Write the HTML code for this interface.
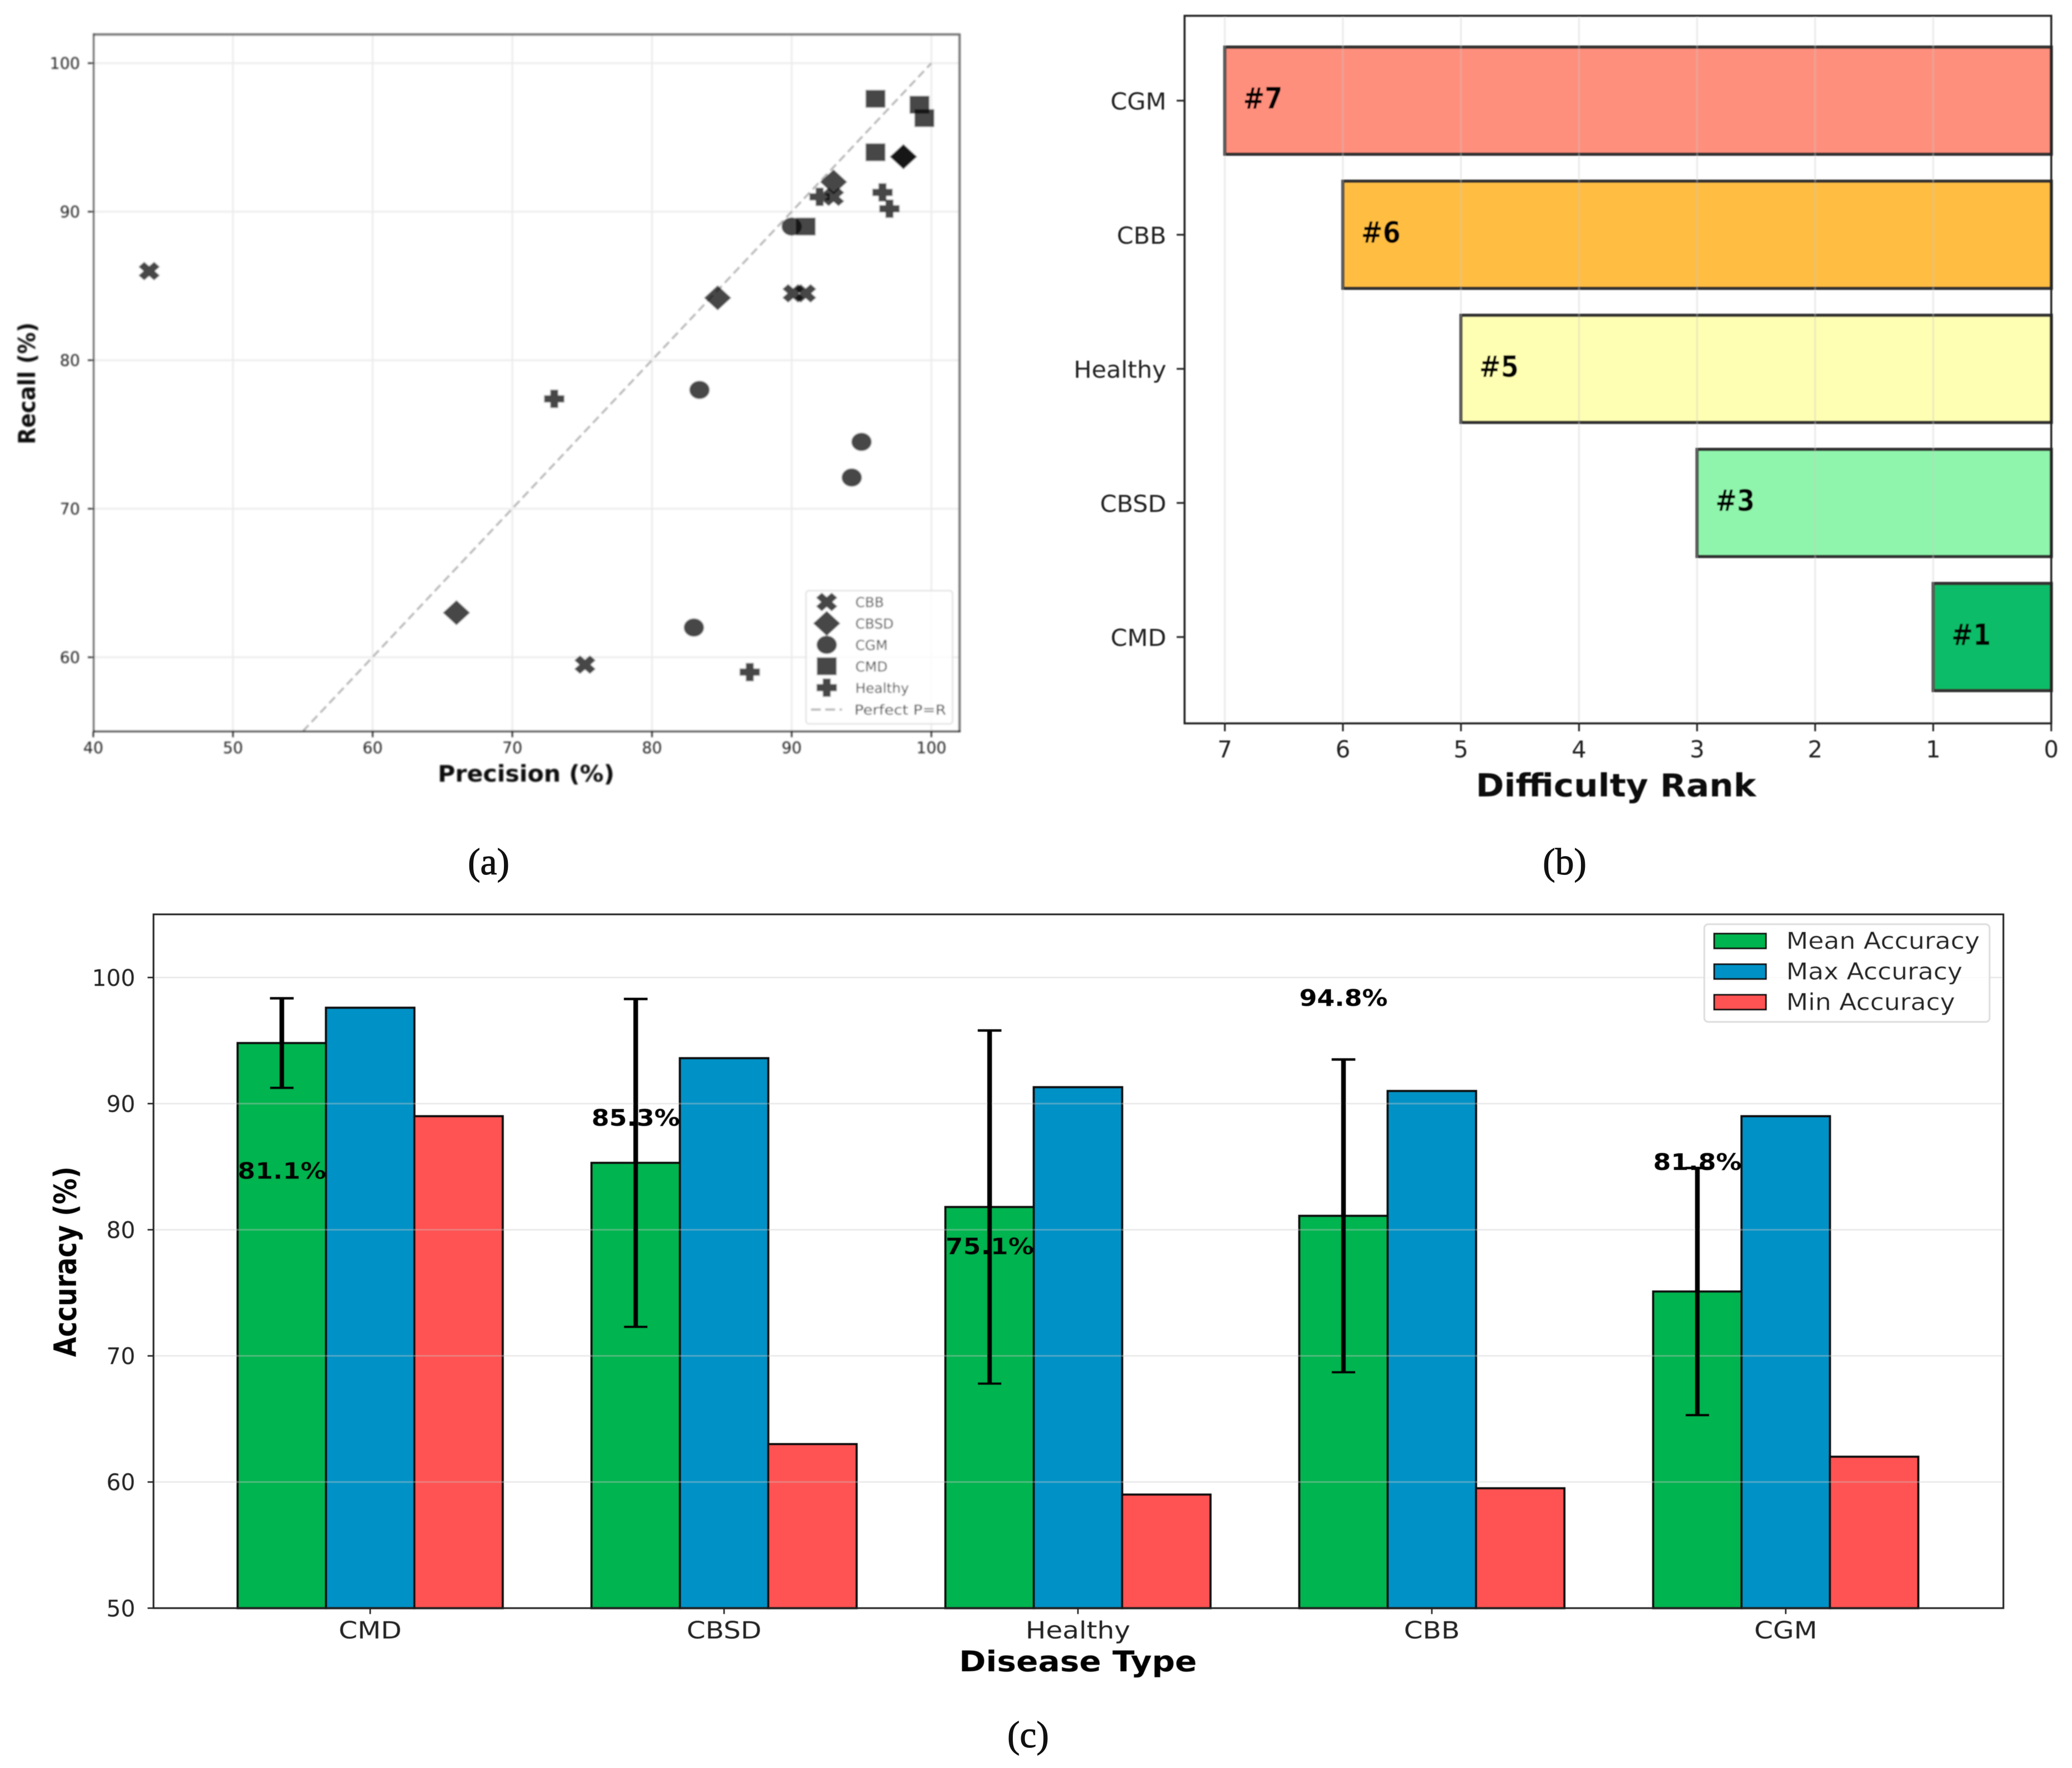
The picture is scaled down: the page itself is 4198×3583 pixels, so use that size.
<!DOCTYPE html>
<html lang="en">
<head>
<meta charset="utf-8">
<title>Disease classification charts</title>
<style>
html,body{margin:0;padding:0;background:#fff;}
svg{display:block;}
text{font-family:"DejaVu Sans","Liberation Sans",sans-serif;}
.cap{font-family:"Liberation Serif",serif;font-size:76px;fill:#111;stroke:#111;stroke-width:1.2px;}
</style>
</head>
<body>
<svg id="fig" xmlns="http://www.w3.org/2000/svg" width="4198" height="3583" viewBox="0 0 4198 3583">
<defs>
<filter id="blurA" x="-5%" y="-5%" width="110%" height="110%"><feGaussianBlur stdDeviation="1.5"/></filter>
<filter id="blurB" x="-5%" y="-5%" width="110%" height="110%"><feGaussianBlur stdDeviation="1.0"/></filter>
<filter id="blurC" x="-5%" y="-5%" width="110%" height="110%"><feGaussianBlur stdDeviation="0.6"/></filter>
</defs>
<rect width="4198" height="3583" fill="#fff"/>

<g id="panelA" filter="url(#blurA)">
  <rect x="190" y="70" width="1754" height="1412" fill="#fff"/>
  <g id="aGrid"></g>
  <g id="aLine"></g>
  <g id="aMarks"></g>
  <line x1="188" y1="70" x2="1946" y2="70" stroke="#777" stroke-width="5"/>
  <line x1="1944" y1="68" x2="1944" y2="1484" stroke="#777" stroke-width="5"/>
  <line x1="190" y1="68" x2="190" y2="1484" stroke="#444" stroke-width="3.5"/>
  <line x1="188" y1="1482" x2="1946" y2="1482" stroke="#222" stroke-width="3.5"/>
  <g id="aTicks"></g>
  <g id="aLegend">
    <rect x="1633" y="1197" width="297" height="270" rx="6" fill="#fff" fill-opacity="0.8" stroke="#e2e2e2" stroke-width="3"/>
  </g>
  <text x="1066" y="1584" font-size="46" font-weight="700" text-anchor="middle" fill="#111" textLength="358" lengthAdjust="spacingAndGlyphs">Precision (%)</text>
  <text transform="translate(71,777) rotate(-90)" font-size="47" font-weight="700" text-anchor="middle" fill="#111" textLength="247" lengthAdjust="spacingAndGlyphs">Recall (%)</text>
</g>

<g id="panelB" filter="url(#blurB)">
  <g id="bBars"></g>
  <g id="bGrid"></g>
  <g id="bLabels"></g>
  <rect x="2400" y="32" width="1756" height="1434" fill="none" stroke="#222" stroke-width="4"/>
  <g id="bTicks"></g>
  <text x="3274" y="1614" font-size="64" font-weight="700" text-anchor="middle" fill="#111" textLength="568" lengthAdjust="spacingAndGlyphs">Difficulty Rank</text>
</g>

<g id="panelC" filter="url(#blurC)">
  <g id="cBars"></g>
  <g id="cGrid"></g>
  <g id="cErr"></g>
  <g id="cLabels"></g>
  <rect x="311" y="1853" width="3748" height="1406" fill="none" stroke="#222" stroke-width="3.5"/>
  <g id="cTicks"></g>
  <g id="cLegend">
    <rect x="3453" y="1873" width="578" height="198" rx="8" fill="#fff" fill-opacity="0.8" stroke="#ddd" stroke-width="3.5"/>
  </g>
  <text x="2184" y="3387" font-size="58" font-weight="700" text-anchor="middle" fill="#000" textLength="482" lengthAdjust="spacingAndGlyphs">Disease Type</text>
  <text transform="translate(154,2557) rotate(-90)" font-size="62" font-weight="700" text-anchor="middle" fill="#000" textLength="386" lengthAdjust="spacingAndGlyphs">Accuracy (%)</text>
</g>

<text class="cap" x="990" y="1772" text-anchor="middle">(a)</text>
<text class="cap" x="3170" y="1772" text-anchor="middle">(b)</text>
<text class="cap" x="2083" y="3541" text-anchor="middle">(c)</text>
</svg>

<script>
// ---------- Panel (a) data ----------
const scatterXTicks = [40, 50, 60, 70, 80, 90, 100];
const scatterYTicks = [60, 70, 80, 90, 100];
const scatterSeriesNames = ['CBB', 'CBSD', 'CGM', 'CMD', 'Healthy'];
const cbbPrecision = [44, 90.1, 91, 93, 75.2];
const cbbRecall = [86, 84.5, 84.5, 91, 59.5];
const cbsdPrecision = [66, 84.7, 93, 98, 98];
const cbsdRecall = [63, 84.2, 92, 93.7, 93.7];
const cgmPrecision = [90, 83.4, 95, 94.3, 83];
const cgmRecall = [89, 78, 74.5, 72.1, 62];
const cmdPrecision = [96, 99.15, 99.5, 96, 91];
const cmdRecall = [97.6, 97.2, 96.3, 94, 89];
const healthyPrecision = [92, 96.5, 97, 73, 87];
const healthyRecall = [91, 91.3, 90.2, 77.4, 59];
const perfectLineStart = 55;
const perfectLineEnd = 100;

// ---------- Panel (b) data ----------
const rankCategories = ['CMD', 'CBSD', 'Healthy', 'CBB', 'CGM'];
const rankValues = [1, 3, 5, 6, 7];
const rankColors = ['#10BC67', '#90F5AC', '#FFFFB3', '#FFBE43', '#FF8F7D'];
const rankXTicks = [7, 6, 5, 4, 3, 2, 1, 0];

// ---------- Panel (c) data ----------
const diseaseCategories = ['CMD', 'CBSD', 'Healthy', 'CBB', 'CGM'];
const meanAccuracy = [94.8, 85.3, 81.8, 81.1, 75.1];
const maxAccuracy = [97.6, 93.6, 91.3, 91, 89];
const minAccuracy = [89, 63, 59, 59.5, 62];
const accuracyStd = [3.55, 13, 14, 12.4, 9.8];
const printedLabels = ['81.1%', '85.3%', '75.1%', '94.8%', '81.8%'];
const printedLabelHeights = [84.7, 88.9, 78.7, 98.4, 85.4];
const accuracyYTicks = [50, 60, 70, 80, 90, 100];
const accuracySeriesNames = ['Mean Accuracy', 'Max Accuracy', 'Min Accuracy'];

// ---------- Axis functions ----------
const xA = v => 189 + (v - 40) * 28.3;
const yA = v => 128 + (100 - v) * 30.1;
const xB = v => 4156 - v * 239.2;
const yB = i => 1291 - i * 271.75;
const xC = i => 750 + i * 717;
const yC = v => 3259 - (v - 50) * 25.56;

const NS = 'http://www.w3.org/2000/svg';
function add(parentId, tag, attrs) {
  const el = document.createElementNS(NS, tag);
  for (const k in attrs) el.setAttribute(k, attrs[k]);
  document.getElementById(parentId).appendChild(el);
  return el;
}
function label(parentId, x, cy, str, size, fill, anchor, weight, len, stretch) {
  const attrs = { x: x, y: cy + size * 0.365, 'font-size': size, fill: fill, 'text-anchor': anchor, 'font-weight': weight };
  if (len) { attrs.textLength = len; attrs.lengthAdjust = 'spacingAndGlyphs'; }
  const el = add(parentId, 'text', attrs);
  el.textContent = str;
  if (stretch) {
    el.setAttribute('textLength', (el.getComputedTextLength() * stretch).toFixed(1));
    el.setAttribute('lengthAdjust', 'spacingAndGlyphs');
  }
  return el;
}
function poly(points, cx, cy, sx, sy) {
  return points.map(p => (cx + p[0] * sx).toFixed(1) + ',' + (cy + p[1] * sy).toFixed(1)).join(' ');
}
const xShape = [[-.5,-1],[0,-.5],[.5,-1],[1,-.5],[.5,0],[1,.5],[.5,1],[0,.5],[-.5,1],[-1,.5],[-.5,0],[-1,-.5]];
const plusShape = [[-.36,-1],[.36,-1],[.36,-.36],[1,-.36],[1,.36],[.36,.36],[.36,1],[-.36,1],[-.36,.36],[-1,.36],[-1,-.36],[-.36,-.36]];
const diamondShape = [[0,-1],[1,0],[0,1],[-1,0]];
const markStyle = { fill: '#000', 'fill-opacity': 0.72, stroke: '#000', 'stroke-opacity': 0.4, 'stroke-width': 2.5 };
function marker(parentId, kind, cx, cy) {
  const s = Object.assign({}, markStyle);
  if (kind === 'CBB') return add(parentId, 'polygon', Object.assign(s, { points: poly(xShape, cx, cy, 20, 17.5) }));
  if (kind === 'CBSD') return add(parentId, 'polygon', Object.assign(s, { points: poly(diamondShape, cx, cy, 26, 24) }));
  if (kind === 'CGM') return add(parentId, 'ellipse', Object.assign(s, { cx: cx, cy: cy, rx: 19.5, ry: 17.5 }));
  if (kind === 'CMD') return add(parentId, 'rect', Object.assign(s, { x: cx - 19, y: cy - 17, width: 38, height: 34 }));
  return add(parentId, 'polygon', Object.assign(s, { points: poly(plusShape, cx, cy, 19.5, 17.5) }));
}

// ---------- Panel (a) ----------
scatterXTicks.forEach(t => {
  const g = add('aGrid', 'line', { x1: xA(t), x2: xA(t), y1: 70, y2: 1482, stroke: '#ececec', 'stroke-width': 3.5 });
  
  
  const m = add('aTicks', 'line', { x1: xA(t), x2: xA(t), y1: 1482, y2: 1494, stroke: '#222', 'stroke-width': 3 });
  
  
  const l = label('aTicks', xA(t), 1515, String(t), 32, '#222', 'middle', 400);
  
  
});
scatterYTicks.forEach(t => {
  const g = add('aGrid', 'line', { x1: 190, x2: 1944, y1: yA(t), y2: yA(t), stroke: '#ececec', 'stroke-width': 3.5 });
  
  
  const m = add('aTicks', 'line', { x1: 178, x2: 190, y1: yA(t), y2: yA(t), stroke: '#222', 'stroke-width': 3 });
  
  
  const l = label('aTicks', 162, yA(t), String(t), 32, '#222', 'end', 400);
  
  
});
const perfect = add('aLine', 'line', { x1: xA(perfectLineStart), y1: Math.min(yA(perfectLineStart), 1482), x2: xA(perfectLineEnd), y2: yA(perfectLineEnd), stroke: '#b8b8b8', 'stroke-width': 4.5, 'stroke-dasharray': '17 9' });



const scatterXs = [cbbPrecision, cbsdPrecision, cgmPrecision, cmdPrecision, healthyPrecision];
const scatterYs = [cbbRecall, cbsdRecall, cgmRecall, cmdRecall, healthyRecall];
scatterSeriesNames.forEach((name, s) => {
  scatterXs[s].forEach((p, i) => {
    const pt = marker('aMarks', name, xA(p), yA(scatterYs[s][i]));
    
    
  });
  const rowY = 1220 + s * 43.4;
  const lm = marker('aLegend', name, 1675, rowY);
  
  
  const lt = label('aLegend', 1733, rowY, name, 28, '#222', 'start', 400);
  
  
});
const lgLine = add('aLegend', 'line', { x1: 1643, x2: 1706, y1: 1438, y2: 1438, stroke: '#b8b8b8', 'stroke-width': 4.5, 'stroke-dasharray': '20 9' });


const lgText = label('aLegend', 1731, 1438, 'Perfect P=R', 28, '#222', 'start', 400, 186);



// ---------- Panel (b) ----------
rankCategories.forEach((name, i) => {
  const left = xB(rankValues[i]);
  const cy = yB(i);
  const bar = add('bBars', 'rect', { x: left, y: cy - 108.5, width: xB(0) - left, height: 217, fill: rankColors[i], stroke: '#333', 'stroke-width': 6.5 });
  
  
  const txt = label('bLabels', left + 37, cy - 6, '#' + rankValues[i], 60, '#000', 'start', 700, 80);
  
  
  const tick = add('bTicks', 'line', { x1: 2384, x2: 2400, y1: cy, y2: cy, stroke: '#222', 'stroke-width': 3.5 });
  
  
  const cat = label('bTicks', 2363, cy + 1, name, 47, '#222', 'end', 400, 0, 1.03);
  
  
});
rankXTicks.forEach(t => {
  const g = add('bGrid', 'line', { x1: xB(t), x2: xB(t), y1: 32, y2: 1466, stroke: '#c8c8c8', 'stroke-opacity': 0.32, 'stroke-width': 4 });
  
  
  const m = add('bTicks', 'line', { x1: xB(t), x2: xB(t), y1: 1466, y2: 1482, stroke: '#222', 'stroke-width': 3.5 });
  
  
  const l = label('bTicks', xB(t), 1518, String(t), 47, '#222', 'middle', 400);
  
  
});

// ---------- Panel (c) ----------
const barWidth = 179;
const accuracySeries = [meanAccuracy, maxAccuracy, minAccuracy];
const accuracyColors = ['#00B44F', '#0092C6', '#FF5252'];
accuracySeries.forEach((vals, s) => {
  vals.forEach((v, i) => {
    const left = xC(i) + (s - 1.5) * barWidth;
    const bar = add('cBars', 'rect', { x: left, y: yC(v), width: barWidth, height: 3259 - yC(v), fill: accuracyColors[s], stroke: '#111', 'stroke-width': 4.5 });
    
    
  });
  const rowY = 1907 + s * 62;
  const patch = add('cLegend', 'rect', { x: 3473, y: rowY - 15, width: 105, height: 30, fill: accuracyColors[s], stroke: '#111', 'stroke-width': 3.5 });
  
  
  const lt = label('cLegend', 3619, rowY - 1, accuracySeriesNames[s], 47, '#222', 'start', 400, [392, 357, 342][s]);
  
  
});
accuracyYTicks.forEach(t => {
  const g = add('cGrid', 'line', { x1: 311, x2: 4059, y1: yC(t), y2: yC(t), stroke: '#c8c8c8', 'stroke-opacity': 0.4, 'stroke-width': 3 });
  
  
  const m = add('cTicks', 'line', { x1: 299, x2: 311, y1: yC(t), y2: yC(t), stroke: '#222', 'stroke-width': 3 });
  
  
  const l = label('cTicks', 274, yC(t), String(t), 46, '#222', 'end', 400);
  
  
});
diseaseCategories.forEach((name, i) => {
  const gx = xC(i);
  const ex = gx - barWidth;
  const hi = yC(meanAccuracy[i] + accuracyStd[i]);
  const lo = yC(meanAccuracy[i] - accuracyStd[i]);
  const stem = add('cErr', 'line', { x1: ex, x2: ex, y1: hi, y2: lo, stroke: '#000', 'stroke-width': 9.5 });
  
  
  const capTop = add('cErr', 'line', { x1: ex - 24, x2: ex + 24, y1: hi, y2: hi, stroke: '#000', 'stroke-width': 5 });
  
  
  const capBot = add('cErr', 'line', { x1: ex - 24, x2: ex + 24, y1: lo, y2: lo, stroke: '#000', 'stroke-width': 5 });
  
  
  const val = label('cLabels', ex, yC(printedLabelHeights[i]), printedLabels[i], 46, '#000', 'middle', 700, 179);
  
  
  const tick = add('cTicks', 'line', { x1: gx, x2: gx, y1: 3259, y2: 3271, stroke: '#222', 'stroke-width': 3 });
  
  
  const cat = label('cTicks', gx, 3303, name, 48, '#222', 'middle', 400, 0, 1.14);
  
  
});
</script>
</body>
</html>
